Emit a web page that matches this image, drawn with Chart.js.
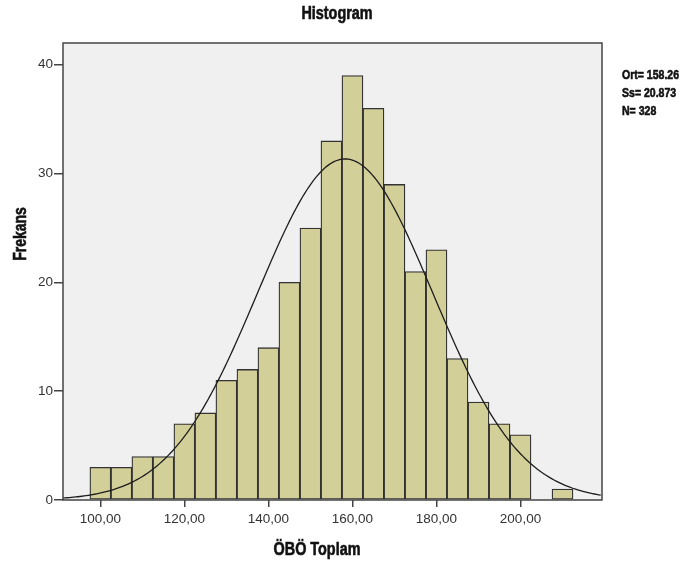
<!DOCTYPE html>
<html>
<head>
<meta charset="utf-8">
<script src="https://cdn.jsdelivr.net/npm/chart.js@4/dist/chart.umd.min.js"></script>
<style>
  html, body { margin: 0; padding: 0; background: #fff; }
  #wrap { width: 684px; height: 572px; position: relative; }
</style>
</head>
<body>
<div id="wrap"><canvas id="hist"></canvas></div>
<script>
// bin midpoints (bin width 5) and frequencies
const BIN_CENTERS = [100, 105, 110, 115, 120, 125, 130, 135, 140, 145, 150, 155, 160, 165, 170, 175, 180, 185, 190, 195, 200, 205, 210];
const COUNTS = [3, 3, 4, 4, 7, 8, 11, 12, 14, 20, 25, 33, 39, 36, 29, 21, 23, 13, 9, 7, 6, 0, 1];
const BIN_WIDTH = 5;

const X_TICKS = [100, 120, 140, 160, 180, 200];
const Y_TICKS = [0, 10, 20, 30, 40];
const X_RANGE = [91.1, 219.4];
const Y_RANGE = [0, 42];

// summary statistics shown beside the plot
const MEAN = 158.26;
const SD = 20.873;
const N = 328;
const STAT_LINES = ["Ort= 158.26", "Ss= 20.873", "N= 328"];

const TITLE = "Histogram";
const X_TITLE = "ÖBÖ Toplam";
const Y_TITLE = "Frekans";

const BOLD = '"Liberation Sans", Arial, sans-serif';
const REGULAR = '"Liberation Sans", Arial, sans-serif';

function normalCurve() {
  const pts = [];
  const scale = N * BIN_WIDTH / (SD * Math.sqrt(2 * Math.PI));
  for (let x = X_RANGE[0]; x <= X_RANGE[1] + 0.001; x += 0.5) {
    const z = (x - MEAN) / SD;
    pts.push({ x, y: scale * Math.exp(-0.5 * z * z) });
  }
  return pts;
}

const formatComma = (v) => v.toFixed(2).replace(".", ",");

// condensed heavy text: squeeze a bold face horizontally and thicken it a bit
function narrowText(ctx, text, x, y, size, align, squeeze = 0.8) {
  ctx.save();
  ctx.font = "bold " + size + "px " + BOLD;
  ctx.textAlign = align;
  ctx.translate(x, y);
  ctx.scale(squeeze, 1);
  ctx.lineWidth = 0.6;
  ctx.strokeStyle = ctx.fillStyle;
  ctx.fillText(text, 0, 0);
  ctx.strokeText(text, 0, 0);
  ctx.restore();
}

const spssFrame = {
  id: "spssFrame",
  beforeDraw(chart) {
    const { ctx, chartArea: a } = chart;
    ctx.save();
    ctx.fillStyle = "#f0f0f0";
    ctx.fillRect(a.left, a.top, a.right - a.left, a.bottom - a.top);
    ctx.restore();
  },
  afterDraw(chart) {
    const { ctx, chartArea: a } = chart;
    ctx.save();
    ctx.strokeStyle = "#444";
    ctx.lineWidth = 1.5;
    ctx.strokeRect(a.left, a.top, a.right - a.left, a.bottom - a.top);

    ctx.fillStyle = "#111";
    ctx.textBaseline = "middle";
    narrowText(ctx, TITLE, 337, 14, 18, "center");
    narrowText(ctx, X_TITLE, 317, 550, 18, "center");

    ctx.save();
    ctx.translate(21, 234);
    ctx.rotate(-Math.PI / 2);
    narrowText(ctx, Y_TITLE, 0, 0, 17.5, "center");
    ctx.restore();

    STAT_LINES.forEach((line, i) => narrowText(ctx, line, 622, 75 + i * 18, 13.5, "left", 0.78));
    ctx.restore();
  },
};

document.addEventListener("DOMContentLoaded", () => {
  const ctx = document.getElementById("hist").getContext("2d");

  const bars = BIN_CENTERS.map((x, i) => ({ x, y: COUNTS[i] })).filter((p) => p.y > 0);

  new Chart(ctx, {
    type: "bar",
    data: {
      datasets: [
        {
          type: "line",
          data: normalCurve(),
          borderColor: "#1e1e1e",
          borderWidth: 1.3,
          pointRadius: 0,
          fill: false,
          tension: 0,
          order: 0,
        },
        {
          type: "bar",
          data: bars,
          backgroundColor: "#d3cf98",
          borderColor: "#333",
          borderWidth: 1.3,
          borderSkipped: false,
          barPercentage: 1,
          categoryPercentage: 1,
          order: 1,
        },
      ],
    },
    options: {
      responsive: true,
      maintainAspectRatio: false,
      animation: false,
      layout: { padding: { top: 43, right: 82, left: 0, bottom: 0 } },
      plugins: { legend: { display: false }, tooltip: { enabled: false } },
      scales: {
        x: {
          type: "linear",
          offset: false,
          min: X_RANGE[0],
          max: X_RANGE[1],
          afterBuildTicks: (scale) => { scale.ticks = X_TICKS.map((value) => ({ value })); },
          afterFit: (scale) => { scale.height = 72; },
          border: { display: false },
          grid: { offset: false, drawOnChartArea: false, drawTicks: true, tickLength: 7, color: "#444", lineWidth: 1.5 },
          ticks: {
            padding: 4,
            color: "#333",
            font: { family: REGULAR, size: 13.5 },
            callback: (v) => formatComma(v),
          },
        },
        y: {
          min: Y_RANGE[0],
          max: Y_RANGE[1],
          afterBuildTicks: (scale) => { scale.ticks = Y_TICKS.map((value) => ({ value })); },
          afterFit: (scale) => { scale.width = 63; },
          border: { display: false },
          grid: { drawOnChartArea: false, drawTicks: true, tickLength: 9, color: "#444", lineWidth: 1.5 },
          ticks: {
            padding: 1,
            color: "#333",
            font: { family: REGULAR, size: 13.5 },
          },
        },
      },
    },
    plugins: [spssFrame],
  });
});
</script>
</body>
</html>
